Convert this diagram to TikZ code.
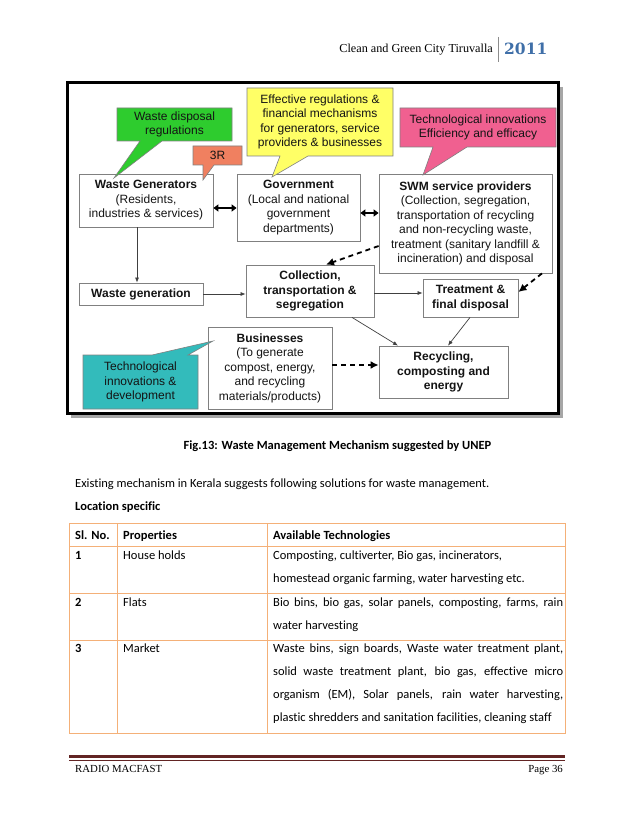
\documentclass[tikz,border=0pt]{standalone}
\usepackage{fontspec}
\setmainfont[Ligatures=NoCommon]{Carlito}
\newfontfamily\arialf{Liberation Sans}
\newfontfamily\hdrf{Liberation Serif}
\newfontfamily\yearf{DejaVu Serif}
\usetikzlibrary{arrows.meta}
\definecolor{cgreen}{RGB}{46,204,46}
\definecolor{corange}{RGB}{240,128,96}
\definecolor{cyellow}{RGB}{255,255,102}
\definecolor{cpink}{RGB}{240,96,144}
\definecolor{cteal}{RGB}{51,187,187}
\definecolor{tblline}{RGB}{244,176,120}
\definecolor{yearblue}{RGB}{63,111,168}
\definecolor{footred}{RGB}{98,36,35}
\definecolor{boxline}{RGB}{128,128,128}
\definecolor{diagtext}{RGB}{20,20,20}
\begin{document}
\begin{tikzpicture}[x=1pt,y=-1pt,
  dfont/.style={font=\arialf\fontsize{12}{14.5}\selectfont, text=diagtext},
  dbox/.style={dfont, draw=boxline, line width=0.8pt, fill=white, align=center, inner sep=0pt},
  ctext/.style={dfont, align=center, inner sep=0pt},
  callout/.style={draw=boxline, line width=0.6pt},
  thinarrow/.style={draw=black!75, line width=0.7pt, -{Latex[length=5pt,width=4pt]}},
  dblarrow/.style={draw=black, line width=2pt, {Triangle[length=5pt,width=7pt]}-{Triangle[length=5pt,width=7pt]}},
  dasharrow/.style={draw=black, line width=1.8pt, dash pattern=on 5pt off 4pt, -{Latex[length=8pt,width=8pt]}},
  body/.style={font=\fontsize{12.5}{15}\selectfont, inner sep=0pt, anchor=base west},
  bodyb/.style={body, font=\fontsize{12.5}{15}\selectfont\bfseries},
  tline/.style={draw=tblline, line width=1pt}
]
\useasboundingbox (0,0) rectangle (638,826);
\fill[white] (0,0) rectangle (638,826);

% header
\node[inner sep=0pt, anchor=base east, font=\hdrf\fontsize{12.2}{14}\selectfont] (hdr) at (493,53) {Clean and Green City Tiruvalla};
\draw[black!45, line width=1pt] (498,37) -- (498,62);
\node[inner sep=0pt, anchor=base west, font=\yearf\bfseries\fontsize{15.5}{18}\selectfont, text=yearblue] (year) at (504,55) {2011};

% frame
\draw[black!35, line width=3pt] (561,87) -- (561,416) -- (71,416);
\draw[black, line width=3pt] (67,83) rectangle (558,413);

% boxes
\node[dbox, minimum width=134pt, minimum height=53pt] (wg) at (146,200.5) {\textbf{Waste Generators}\\(Residents,\\industries \& services)};
\node[dbox, minimum width=123pt, minimum height=67pt] (gov) at (298.5,207.5) {\textbf{Government}\\(Local and national\\government\\departments)};
\node[dbox, minimum width=173pt, minimum height=99pt] (swm) at (465.5,223.5) {\textbf{SWM service providers}\\(Collection, segregation,\\transportation of recycling\\and non-recycling waste,\\treatment (sanitary landfill \&\\incineration) and disposal};
\node[dbox, minimum width=124pt, minimum height=22pt] (wgen) at (141,294) {\textbf{Waste generation}};
\node[dbox, minimum width=128pt, minimum height=52pt] (coll) at (310,291) {\textbf{Collection,}\\\textbf{transportation \&}\\\textbf{segregation}};
\node[dbox, minimum width=95pt, minimum height=38pt] (treat) at (470.5,298) {\textbf{Treatment \&}\\\textbf{final disposal}};
\node[dbox, minimum width=129pt, minimum height=52pt] (rec) at (443.5,372) {\textbf{Recycling,}\\\textbf{composting and}\\\textbf{energy}};
\node[dbox, minimum width=124pt, minimum height=82pt] (bus) at (270,368) {\textbf{Businesses}\\(To generate\\compost, energy,\\and recycling\\materials/products)};

% connectors
\draw[dblarrow] (wg.east |- 0,208) -- (gov.west |- 0,208);
\draw[dblarrow] (gov.east |- 0,213) -- (swm.west |- 0,213);
\draw[thinarrow] (137,0 |- wg.south) -- (137,0 |- wgen.north);
\draw[thinarrow] (wgen.east) -- (coll.west |- wgen.east);
\draw[thinarrow] (coll.east |- 0,293) -- (treat.west |- 0,293);
\draw[thinarrow] (352,0 |- coll.south) -- (398,0 |- rec.north);
\draw[thinarrow] (470,0 |- treat.south) -- (448,0 |- rec.north);
\draw[dasharrow] (swm.west |- 0,246) -- (326,0 |- coll.north);
\draw[dasharrow] (542,0 |- swm.south) -- (treat.east |- 0,292);
\draw[dasharrow] (bus.east |- 0,365) -- (rec.west |- 0,365);

% callouts
\filldraw[callout, fill=cgreen] (117,108) -- (232,108) -- (232,141) -- (162,141) -- (114,178) -- (140,141) -- (117,141) -- cycle;
\node[ctext] (green) at (174.5,124.5) {Waste disposal\\regulations};
\filldraw[callout, fill=corange] (193,146) -- (242,146) -- (242,165) -- (214,165) -- (203,180) -- (203,165) -- (193,165) -- cycle;
\node[ctext] (orange) at (217.5,155.5) {3R};
\filldraw[callout, fill=cyellow] (247,88) -- (393,88) -- (393,156) -- (308,156) -- (272,177) -- (280,156) -- (247,156) -- cycle;
\node[ctext] (yellow) at (320,122) {Effective regulations \&\\financial mechanisms\\for generators, service\\providers \& businesses};
\filldraw[callout, fill=cpink] (400,108) -- (556,108) -- (556,147) -- (467,147) -- (423,175) -- (433,147) -- (400,147) -- cycle;
\node[ctext] (pink) at (478,127.5) {Technological innovations\\Efficiency and efficacy};
\filldraw[callout, fill=cteal] (83,355) -- (152,355) -- (213,341) -- (188,355) -- (198,355) -- (198,409) -- (83,409) -- cycle;
\node[ctext] (teal) at (140.5,382) {Technological\\innovations \&\\development};

% caption and text
\node[bodyb, anchor=base] (cap) at (337.5,449) {Fig.13: Waste Management Mechanism suggested by UNEP};
\node[body] (intro) at (75,487) {Existing mechanism in Kerala suggests following solutions for waste management.};
\node[bodyb] (loc) at (75,510) {Location specific};

% table
\draw[tline] (69,523) rectangle (565,733);
\draw[tline] (69,546) -- (565,546);
\draw[tline] (69,593) -- (565,593);
\draw[tline] (69,640) -- (565,640);
\draw[tline] (117,523) -- (117,733);
\draw[tline] (267,523) -- (267,733);

\node[bodyb] (h1) at (75,539) {Sl. No.};
\node[bodyb] (h2) at (123,539) {Properties};
\node[bodyb] (h3) at (273,539) {Available Technologies};

\node[bodyb] (r1a) at (75,559) {1};
\node[body] (r1b) at (123,559) {House holds};
\node[body] (r1c) at (273,559) {Composting, cultiverter, Bio gas, incinerators,};
\node[body] (r1d) at (273,582) {homestead organic farming, water harvesting etc.};

\node[bodyb] (r2a) at (75,606) {2};
\node[body] (r2b) at (123,606) {Flats};
\node[body] (r2c) at (273,606) {\makebox[290pt][s]{Bio bins, bio gas, solar panels, composting, farms, rain}};
\node[body] (r2d) at (273,629) {water harvesting};

\node[bodyb] (r3a) at (75,652) {3};
\node[body] (r3b) at (123,652) {Market};
\node[body] (r3c) at (273,652) {\makebox[290pt][s]{Waste bins, sign boards, Waste water treatment plant,}};
\node[body] (r3d) at (273,675) {\makebox[290pt][s]{solid waste treatment plant, bio gas, effective micro}};
\node[body] (r3e) at (273,698) {\makebox[290pt][s]{organism (EM), Solar panels, rain water harvesting,}};
\node[body] (r3f) at (273,721) {plastic shredders and sanitation facilities, cleaning staff};

% footer
\draw[footred, line width=3pt] (69,756) -- (565,756);
\draw[footred, line width=0.8pt] (69,760) -- (565,760);
\node[inner sep=0pt, anchor=base west, font=\hdrf\fontsize{10.8}{13}\selectfont] (foot1) at (75,772) {RADIO MACFAST};
\node[inner sep=0pt, anchor=base east, font=\hdrf\fontsize{10.8}{13}\selectfont] (foot2) at (563,772) {Page 36};
\end{tikzpicture}
\end{document}
